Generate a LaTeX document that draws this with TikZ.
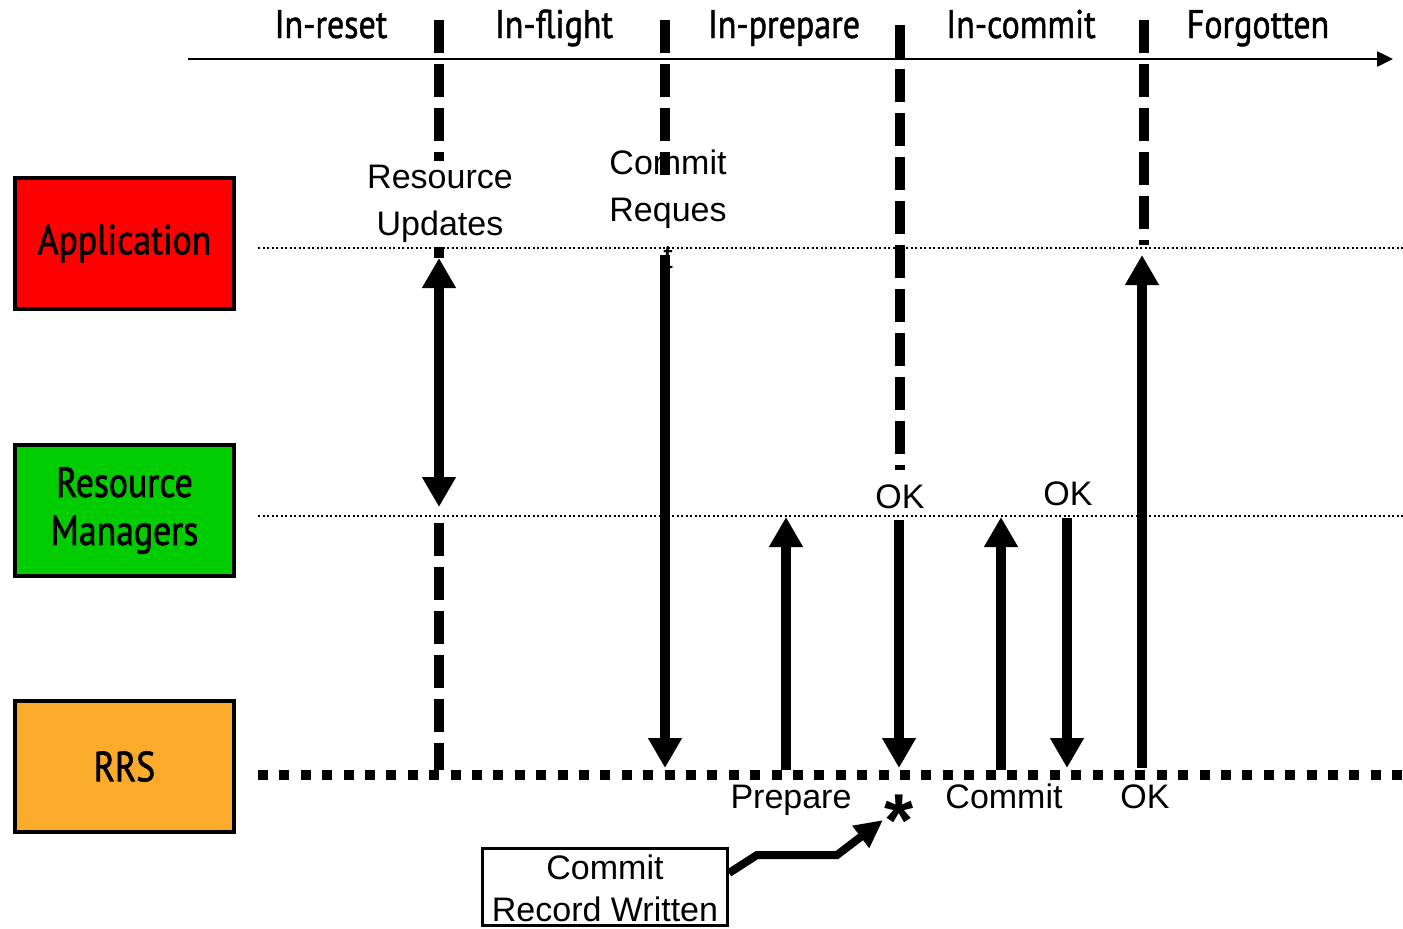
\documentclass[tikz,border=0pt]{standalone}
\usepackage{fontspec}
\setmainfont{Liberation Sans}
\newfontfamily\hdfont[FakeStretch=0.85,FakeBold=1.2]{PT Sans}
\newfontfamily\lanefont[FakeStretch=0.85,FakeBold=1.6]{PT Sans}
\usetikzlibrary{arrows.meta}
\definecolor{appred}{RGB}{255,0,0}
\definecolor{rmgreen}{RGB}{0,204,0}
\definecolor{rrsorange}{RGB}{251,171,44}
\begin{document}
\begin{tikzpicture}[x=1pt,y=-1pt,
  lane/.style={draw=black,line width=4pt,minimum width=219pt,minimum height=131pt,
    inner sep=0pt,align=center,font=\lanefont\fontsize{42}{48}\selectfont},
  phase/.style={line width=10pt,dash pattern=on 33pt off 11pt},
  msg/.style={line width=10pt,-{Triangle[length=30pt,width=32pt]}},
  guide/.style={line width=1.6pt,dash pattern=on 2pt off 2.5pt},
  busline/.style={line width=10pt,dash pattern=on 10pt off 11.4pt},
  txt/.style={font=\fontsize{34}{47}\selectfont,inner sep=0pt,align=center},
  head/.style={font=\hdfont\fontsize{40}{44}\selectfont,inner sep=0pt,anchor=base}
]
\useasboundingbox (0,0) rectangle (1403,929);

% participants
\node[lane,fill=appred]    (app) at (124.5,243.5) {Application};
\node[lane,fill=rmgreen]   (rm)  at (124.5,510.5) {Resource\\Managers};
\node[lane,fill=rrsorange] (rrs) at (124.5,766.5) {RRS};

% lifelines
\coordinate (appL) at (258,248);  \coordinate (appR) at (1403,248);
\coordinate (rmL)  at (258,516);  \coordinate (rmR)  at (1403,516);
\coordinate (rrsL) at (258,775);  \coordinate (rrsR) at (1410,775);
\draw[guide] (appL) -- (appR);
\draw[guide] (rmL) -- (rmR);

% time axis and phase names
\coordinate (axL) at (188,59); \coordinate (axR) at (1393,59);
\draw[line width=2.5pt,-{Triangle[length=16pt,width=15pt]}] (axL) -- (axR);
\node[head] (h1) at (331,38)  {In-reset};
\node[head] (h2) at (554,38)  {In-flight};
\node[head] (h3) at (784,38)  {In-prepare};
\node[head] (h4) at (1021,38) {In-commit};
\node[head] (h5) at (1258,38) {Forgotten};

% phase boundaries
\coordinate (p1a) at (439,20);  \coordinate (p1b) at (439,258);
\coordinate (p1c) at (439,523); \coordinate (p1d) at (439,770);
\coordinate (p2a) at (665,20);  \coordinate (p2b) at (665,175);
\coordinate (p3a) at (900,25);  \coordinate (p3b) at (900,470);
\coordinate (p4a) at (1144,20); \coordinate (p4b) at (1144,245);
\draw[phase] (p1a) -- (p1b);
\draw[phase] (p1c) -- (p1d);
\draw[phase] (p2a) -- (p2b);
\draw[phase] (p3a) -- (p3b);
\draw[phase] (p4a) -- (p4b);

% messages
\coordinate (ruTop) at (439,258);  \coordinate (ruBot) at (439,507);
\coordinate (crTop) at (665,255);  \coordinate (crBot) at (665,768);
\coordinate (prBot) at (786,770);  \coordinate (prTop) at (786,517);
\coordinate (ok1Top) at (899,520); \coordinate (ok1Bot) at (899,768);
\coordinate (cmBot) at (1001,770); \coordinate (cmTop) at (1001,517);
\coordinate (ok2Top) at (1067,518); \coordinate (ok2Bot) at (1067,768);
\coordinate (ok3Bot) at (1142,768); \coordinate (ok3Top) at (1142,255);
\draw[line width=10pt,{Triangle[length=30pt,width=32pt]}-{Triangle[length=30pt,width=32pt]}] (ruTop) -- (ruBot);
\draw[msg] (crTop) -- (crBot);
\draw[msg] (prBot) -- (prTop);
\draw[msg] (ok1Top) -- (ok1Bot);
\draw[msg] (cmBot) -- (cmTop);
\draw[msg] (ok2Top) -- (ok2Bot);
\draw[msg] (ok3Bot) -- (ok3Top);

\draw[busline] (rrsL) -- (rrsR);

% message labels
\node[txt,fill=white,inner xsep=4pt,inner ysep=4pt,anchor=north] (ru) at (440,161) {Resource\\Updates};
\node[txt,anchor=north] (cr) at (668,150) {Commit\\Reques\\t};
\node[txt,anchor=base] (ok1) at (900,508) {OK};
\node[txt,anchor=base] (ok2) at (1068,505) {OK};
\node[txt,anchor=base] (prep) at (791,808) {Prepare};
\node[txt,anchor=base] (comm) at (1004,808) {Commit};
\node[txt,anchor=base] (ok3) at (1145,808) {OK};

% commit record
\node[font=\bfseries\fontsize{75}{75}\selectfont,inner sep=0pt,anchor=base] (star) at (899,846) {*};
\node[txt,draw=black,line width=3pt,minimum width=245pt,minimum height=77pt,
  font=\fontsize{34}{42}\selectfont] (rec) at (605,887) {\rule{0pt}{28pt}Commit\\Record Written};
\coordinate (k1) at (757,855); \coordinate (k2) at (837,855); \coordinate (tip) at (883,820);
\draw[line width=8pt,-{Triangle[length=28pt,width=26pt]}] (rec.east |- 0,873) -- (k1) -- (k2) -- (tip);
\end{tikzpicture}
\end{document}
